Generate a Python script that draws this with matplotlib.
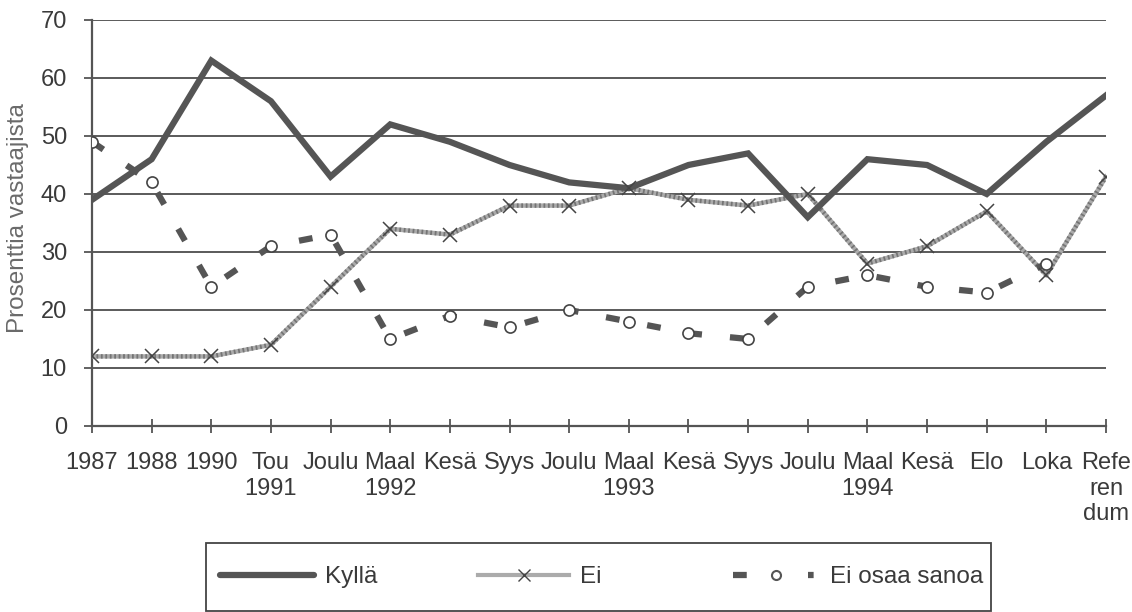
import matplotlib
matplotlib.use("Agg")
import matplotlib.pyplot as plt
from matplotlib.lines import Line2D
from matplotlib.patches import Rectangle

NARROW = ['Liberation Sans Narrow', 'Liberation Sans', 'DejaVu Sans']
REG = ['Liberation Sans', 'DejaVu Sans']
plt.rcParams['font.family'] = NARROW

categories = ["1987", "1988", "1990", "Tou\n1991", "Joulu", "Maal\n1992", "Kesä", "Syys",
              "Joulu", "Maal\n1993", "Kesä", "Syys", "Joulu", "Maal\n1994", "Kesä", "Elo",
              "Loka", "Refe\nren\ndum"]
kylla = [39, 46, 63, 56, 43, 52, 49, 45, 42, 41, 45, 47, 36, 46, 45, 40, 49, 57]
ei = [12, 12, 12, 14, 24, 34, 33, 38, 38, 41, 39, 38, 40, 28, 31, 37, 26, 43]
eos = [49, 42, 24, 31, 33, 15, 19, 17, 20, 18, 16, 15, 24, 26, 24, 23, 28]
yticks = [0, 10, 20, 30, 40, 50, 60, 70]
ylabel = "Prosenttia vastaajista"
series_names = ["Kyllä", "Ei", "Ei osaa sanoa"]

W, H = 1132, 612
fig = plt.figure(figsize=(W / 100, H / 100), dpi=100)
ax = fig.add_axes([92 / W, 1 - 426 / H, 1014 / W, 406 / H])

x = list(range(len(categories)))
xe = x[:len(eos)]

for yv in yticks[1:]:
    ax.axhline(yv, color='#4d4d4d', lw=1.3, zorder=1)

DARK = '#555555'
# Kyllä
ax.plot(x, kylla, color=DARK, lw=4.5, solid_joinstyle='miter', zorder=4)
# Ei (textured grey line)
ax.plot(x, ei, color='#ababab', lw=3.2, zorder=3)
ax.plot(x, ei, color='#747474', lw=3.2, linestyle=(0, (0.4, 0.6)), zorder=3)
ax.plot(x, ei, linestyle='none', marker='x', ms=9.5, mew=1.1, color='#444444', zorder=5)
# Ei osaa sanoa
ax.plot(xe, eos, color=DARK, lw=4.5, linestyle=(0, (2.2, 4.5)), dash_capstyle='butt', zorder=3)
ax.plot(xe, eos, linestyle='none', marker='o', ms=8, mfc='white', mec='#444444', mew=1.2, zorder=5)

ax.set_xlim(0, len(categories) - 1)
ax.set_ylim(0, 70)
ax.set_yticks(yticks)
ax.set_xticks(x)
ax.set_xticklabels(categories, linespacing=1.2)
ax.tick_params(axis='x', direction='inout', length=10, width=1.3, color='#555555',
               labelsize=17, labelcolor='#3a3a3a', pad=14)
ax.tick_params(axis='y', direction='out', length=6, width=1.3, color='#555555',
               labelsize=17, labelcolor='#3a3a3a', pad=12)
for s in ['top', 'right']:
    ax.spines[s].set_visible(False)
for s in ['left', 'bottom']:
    ax.spines[s].set_color('#555555')
    ax.spines[s].set_linewidth(1.6)
fig.text(18 / W, 1 - 218 / H, ylabel, rotation=90, ha='center', va='center',
         fontsize=17.5, color='#6a6a6a', family=REG)

# Legend frame
fig.patches.append(Rectangle((206 / W, 1 - 611 / H), (991 - 206) / W, (611 - 543) / H,
                             transform=fig.transFigure, fill=False, ec='#444444', lw=1.3))

yc = 1 - 577 / H
h1 = Line2D([], [], color=DARK, lw=4.5, solid_capstyle='round')
h2 = Line2D([], [], color='#ababab', lw=3, marker='x', ms=9, mew=1.0, mec='#444444')
h3 = Line2D([], [], color=DARK, lw=4.5, linestyle=(0, (2.2, 9.8, 0.9, 20)),
            dash_capstyle='butt', marker='o', ms=6.5, mfc='white', mec='#555555', mew=1.5)
specs = [(h1, series_names[0], 220, 3.85), (h2, series_names[1], 478, 3.75),
         (h3, series_names[2], 733, 3.55)]
for h, lab, px, hl in specs:
    lg = fig.legend([h], [lab], loc='center left', bbox_to_anchor=(px / W, yc),
                    frameon=False, fontsize=17.5, handlelength=hl, borderpad=0,
                    borderaxespad=0, handletextpad=0.45)
    for t in lg.get_texts():
        t.set_color('#3a3a3a')

fig.savefig('out.png', dpi=100)
